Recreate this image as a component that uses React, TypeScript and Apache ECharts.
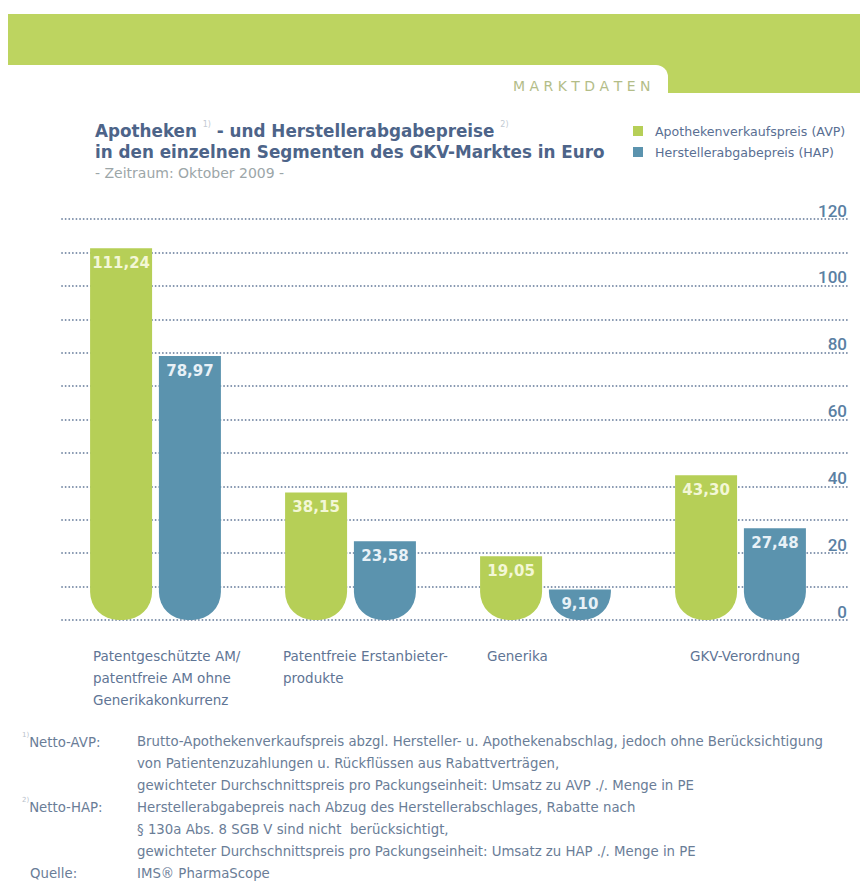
import React, { useEffect, useRef } from "react";
import * as echarts from "echarts";

const categories = [
  "Patentgeschützte AM/\npatentfreie AM ohne\nGenerikakonkurrenz",
  "Patentfreie Erstanbieter-\nprodukte",
  "Generika",
  "GKV-Verordnung",
];
const avpValues = [111.24, 38.15, 19.05, 43.3];
const hapValues = [78.97, 23.58, 9.1, 27.48];
const seriesNames = ["Apothekenverkaufspreis (AVP)", "Herstellerabgabepreis (HAP)"];
const yMin = 0;
const yMax = 120;
const yInterval = 10;
const yLabelStep = 20;

const footLabels = ["Netto-AVP:", "Netto-HAP:", "Quelle:"];
const footAvp = [
  "Brutto-Apothekenverkaufspreis abzgl. Hersteller- u. Apothekenabschlag, jedoch ohne Berücksichtigung",
  "von Patientenzuzahlungen u. Rückflüssen aus Rabattverträgen,",
  "gewichteter Durchschnittspreis pro Packungseinheit: Umsatz zu AVP ./. Menge in PE",
];
const footHap = [
  "Herstellerabgabepreis nach Abzug des Herstellerabschlages, Rabatte nach",
  "§ 130a Abs. 8 SGB V sind nicht  berücksichtigt,",
  "gewichteter Durchschnittspreis pro Packungseinheit: Umsatz zu HAP ./. Menge in PE",
];
const footSource = "IMS® PharmaScope";

const GREEN = "#b6cf57";
const BLUE = "#5b93ae";
const BANNER = "#bdd460";
const FONT = "'DejaVu Sans', Roboto, sans-serif";
const FONT2 = "Roboto, 'DejaVu Sans', sans-serif";

const catLabelX = [93, 283, 487, 690];

export default function App() {
  const ref = useRef<HTMLDivElement>(null);
  useEffect(() => {
    if (!ref.current) return;
    const chart = echarts.init(ref.current, undefined, { renderer: "svg" });
    const fmt = (v: number) => v.toFixed(2).replace(".", ",");
    const barLabel = (color: string) => ({
      show: true,
      position: "insideTop",
      distance: 7,
      color,
      fontSize: 15,
      fontWeight: "bold",
      fontFamily: FONT,
      formatter: (p: any) => fmt(p.value),
    });
    const footBody = [...footAvp, ...footHap, footSource].join("\n");
    const footRich = {
      t: { fontSize: 13.3, fill: "#6a7d97", lineHeight: 22, fontFamily: FONT },
      s: { fontSize: 7, fill: "#b9c1cb", lineHeight: 22, verticalAlign: "top", fontFamily: FONT },
    };
    chart.setOption({
      animation: false,
      backgroundColor: "#ffffff",
      textStyle: { fontFamily: FONT },
      legend: {
        orient: "vertical",
        left: 633,
        top: 124,
        padding: 0,
        icon: "rect",
        itemWidth: 10,
        itemHeight: 10,
        itemGap: 7,
        data: seriesNames,
        textStyle: {
          color: "#5a6f93",
          fontSize: 12.6,
          fontFamily: FONT,
          lineHeight: 14,
          padding: [0, 0, 0, 7],
        },
      },
      grid: [
        { left: 62, right: 12, top: 219, bottom: 261 },
        { left: 58, right: 22, top: 219, bottom: 261 },
      ],
      xAxis: [
        { gridIndex: 0, type: "category", data: categories, show: false },
        {
          gridIndex: 1,
          type: "category",
          data: categories,
          axisLine: { show: false },
          axisTick: { show: false },
          axisLabel: { show: false },
        },
      ],
      yAxis: [
        {
          gridIndex: 0,
          type: "value",
          position: "right",
          min: yMin,
          max: yMax,
          interval: yInterval,
          axisLine: { show: false },
          axisTick: { show: false },
          axisLabel: {
            inside: true,
            margin: 1,
            verticalAlign: "bottom",
            color: "#5a80a3",
            fontSize: 17,
            fontWeight: 500,
            fontFamily: FONT2,
            formatter: (v: number) => (v % yLabelStep === 0 ? String(v) : ""),
          },
          splitLine: {
            show: true,
            lineStyle: {
              color: "#7f91ab",
              width: 1.8,
              type: [0.1, 3.5],
              cap: "round",
            },
          },
        },
        {
          gridIndex: 1,
          type: "value",
          min: yMin,
          max: yMax,
          interval: yInterval,
          show: false,
          splitLine: { show: false },
        },
      ],
      series: [
        {
          name: seriesNames[0],
          type: "bar",
          xAxisIndex: 1,
          yAxisIndex: 1,
          data: avpValues,
          barWidth: 62,
          barGap: "11%",
          itemStyle: { color: GREEN, borderRadius: [0, 0, 28, 28] },
          label: barLabel("#f3f7d6"),
        },
        {
          name: seriesNames[1],
          type: "bar",
          xAxisIndex: 1,
          yAxisIndex: 1,
          data: hapValues,
          barWidth: 62,
          barGap: "11%",
          itemStyle: { color: BLUE, borderRadius: [0, 0, 28, 28] },
          label: barLabel("#e8f1f7"),
        },
      ],
      graphic: [
        { type: "rect", shape: { x: 8, y: 14, width: 852, height: 51 }, style: { fill: BANNER } },
        { type: "rect", shape: { x: 650, y: 60, width: 210, height: 33 }, style: { fill: BANNER } },
        {
          type: "rect",
          shape: { x: 8, y: 65, width: 660, height: 40, r: [0, 12, 0, 0] },
          style: { fill: "#ffffff" },
        },
        {
          type: "text",
          x: 513,
          y: 79,
          style: {
            text: "M A R K T D A T E N",
            fill: "#b3bd88",
            fontSize: 14,
            fontFamily: FONT,
          },
        },
        {
          type: "text",
          x: 95,
          y: 120,
          style: {
            text:
              "{t|Apotheken }{s|1)}{t| - und Herstellerabgabepreise }{s|2)}\n{t|in den einzelnen Segmenten des GKV-Marktes in Euro}",
            rich: {
              t: { fontSize: 16.8, fontWeight: "bold", fill: "#4d6489", lineHeight: 21, fontFamily: FONT },
              s: { fontSize: 8, fill: "#c3cad3", lineHeight: 21, verticalAlign: "top", fontFamily: FONT },
            },
          },
        },
        {
          type: "text",
          x: 95,
          y: 166,
          style: {
            text: "- Zeitraum: Oktober 2009 -",
            fill: "#9ca6a8",
            fontSize: 14,
            fontFamily: FONT,
          },
        },
        ...categories.map((c, i) => ({
          type: "text",
          x: catLabelX[i],
          y: 645,
          style: {
            text: c,
            fill: "#5f7595",
            fontSize: 13.5,
            lineHeight: 22,
            fontFamily: FONT,
          },
        })),
        {
          type: "text",
          x: 22,
          y: 731,
          style: { text: "{s|1)}{t|" + footLabels[0] + "}", rich: footRich },
        },
        {
          type: "text",
          x: 22,
          y: 796,
          style: { text: "{s|2)}{t|" + footLabels[1] + "}", rich: footRich },
        },
        {
          type: "text",
          x: 30,
          y: 862,
          style: { text: footLabels[2], fill: "#6a7d97", fontSize: 13.3, lineHeight: 22, fontFamily: FONT },
        },
        {
          type: "text",
          x: 137,
          y: 731,
          style: { text: footBody, fill: "#6a7d97", fontSize: 13.3, lineHeight: 21.9, fontFamily: FONT },
        },
      ],
    });
    return () => chart.dispose();
  }, []);
  return (
    <div
      ref={ref}
      style={{ position: "absolute", left: 0, top: 0, width: 860, height: 881, background: "#fff" }}
    />
  );
}
